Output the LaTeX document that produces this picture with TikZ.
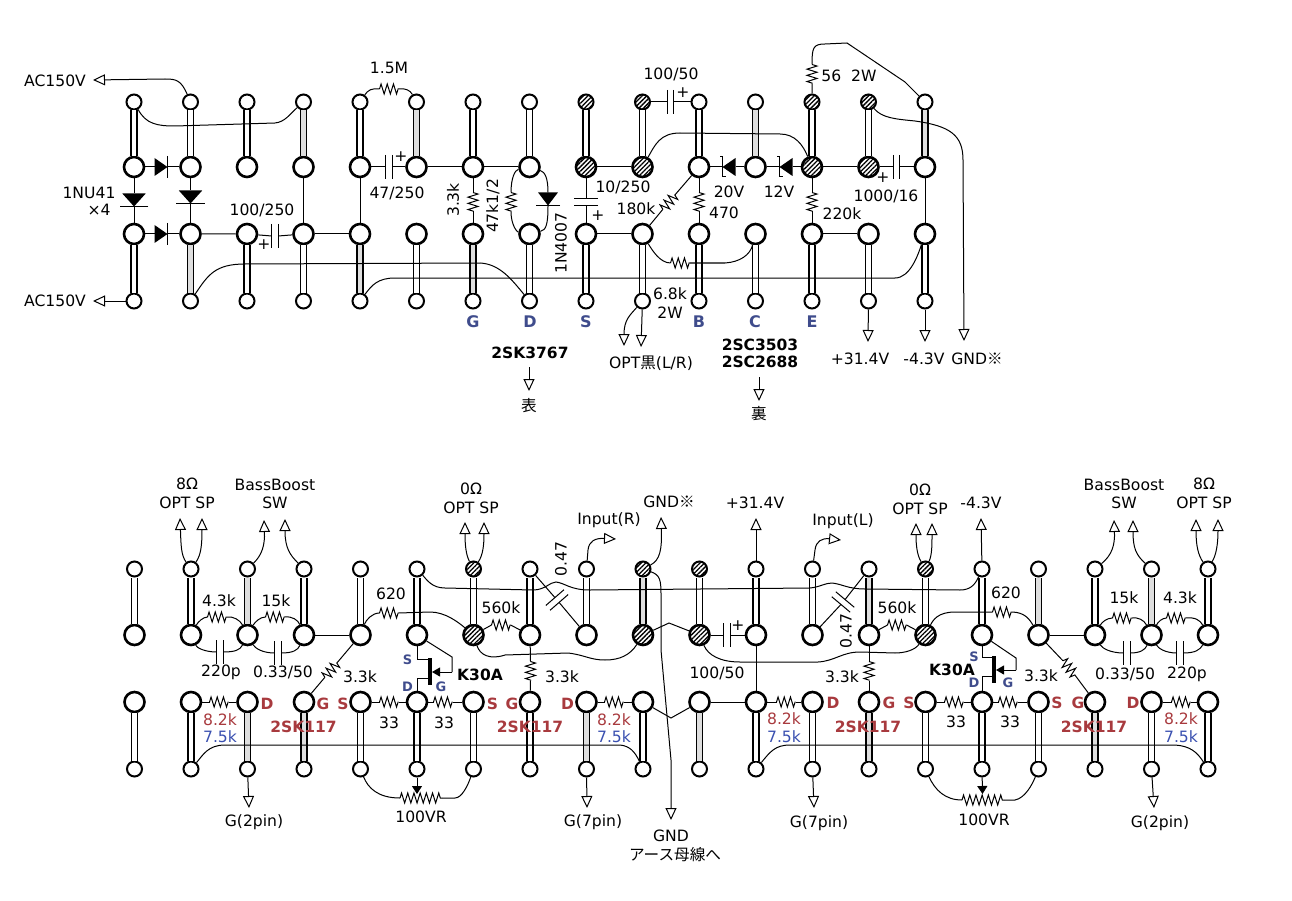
\documentclass[tikz,border=0pt]{standalone}
\usepackage{fontspec}
\setmainfont{DejaVu Sans}
\newfontfamily\cjk{Noto Sans CJK JP}
\usepackage{tikz}
\usetikzlibrary{arrows.meta, decorations.pathmorphing, patterns.meta}
\definecolor{pinblue}{HTML}{3F4C8C}
\definecolor{fetred}{HTML}{A83A3E}
\definecolor{valblue}{HTML}{3A50B0}

\begin{document}
\begin{tikzpicture}[x=1pt,y=-1pt,line width=1pt,
        holeS/.style={circle,draw,line width=2pt,fill=white,minimum size=15pt,inner sep=0pt},
        holeL/.style={circle,draw,line width=2.6pt,fill=white,minimum size=20pt,inner sep=0pt},
        plain/.style={},
        hatch/.style={preaction={fill=white},pattern={Lines[angle=45,distance=3.2pt,line width=1.3pt]}},
        rail/.style={double=white,double distance=4.4pt,line width=1.4pt},
        railg/.style={double=black!13,double distance=4.4pt,line width=1.4pt},
        sig/.style={-{Triangle[open,length=12pt,width=11pt]}},
        lbl/.style={inner sep=0pt,font=\fontsize{15.6}{17}\selectfont},
        pin/.style={lbl,text=pinblue,font=\fontsize{16}{17}\selectfont\bfseries},
        pinS/.style={lbl,text=pinblue,font=\fontsize{13}{14}\selectfont\bfseries},
        part/.style={lbl,font=\fontsize{15.5}{17}\selectfont\bfseries},
        fet/.style={lbl,text=fetred,font=\fontsize{15.5}{17}\selectfont\bfseries},
        valr/.style={lbl,text=fetred},
        valb/.style={lbl,text=valblue},
        zig/.style={decorate,decoration={zigzag,segment length=6.2pt,amplitude=5pt}},
        resi/.pic={\draw[zig] (-9.5,0) coordinate (-a) -- (9.5,0) coordinate (-b);},
        pot/.pic={\draw[zig] (-21,0) coordinate (-a) -- (21,0) coordinate (-b);},
        capa/.pic={\draw (-3.2,-12) -- (-3.2,12) (3.2,-12) -- (3.2,12);
            \coordinate (-a) at (-3.2,0); \coordinate (-b) at (3.2,0);},
        diode/.pic={\fill (-6.5,-9) -- (6.5,0) -- (-6.5,9) -- cycle;
            \draw (6.5,-11) -- (6.5,11);
            \coordinate (-a) at (-6.5,0); \coordinate (-b) at (6.5,0);},
        zener/.pic={\fill (-6.5,-9) -- (6.5,0) -- (-6.5,9) -- cycle;
            \draw (3.5,-10) -- (6.5,-10) -- (6.5,10) -- (9.5,10);
            \coordinate (-a) at (-6.5,0); \coordinate (-b) at (6.5,0);},
        jfet/.pic={\draw[line width=4pt] (0,-14) -- (0,13);
            \draw (0,-13) -- (-12,-13) coordinate (-s);
            \draw (0,6) -- (-12,6) coordinate (-d);
            \draw[-{Triangle[length=8pt,width=9pt]}] (22,0) coordinate (-g) -- (2,0);}
    ]
    \useasboundingbox (0,0) rectangle (1292,901);

    % top board
    \foreach \i/\p in {0/plain,1/plain,2/plain,3/plain,4/plain,5/plain,6/plain,7/plain,
            8/hatch,9/hatch,10/plain,11/plain,12/hatch,13/hatch,14/plain} {
        \pgfmathsetmacro\cx{134+56.5*\i}
        \node[holeS,\p] (ta\i) at (\cx,102) {};
        \node[holeL,\p] (tb\i) at (\cx,167) {};
        \node[holeL]    (tc\i) at (\cx,234) {};
        \node[holeS]    (td\i) at (\cx,301) {};
    }
    % bottom board
    \foreach \i/\p in {0/plain,1/plain,2/plain,3/plain,4/plain,5/plain,6/hatch,7/plain,8/plain,
            9/hatch,10/hatch,11/plain,12/plain,13/plain,14/hatch,15/plain,16/plain,17/plain,18/plain,19/plain} {
        \pgfmathsetmacro\cx{134.5+56.5*\i}
        \node[holeS,\p] (ba\i) at (\cx,569) {};
        \node[holeL,\p] (bb\i) at (\cx,635) {};
        \node[holeL]    (bc\i) at (\cx,702) {};
        \node[holeS]    (bd\i) at (\cx,769) {};
    }
    \foreach \i in {0,1,2,4,6,7,8,9,10,12,13}
        \draw[rail] (ta\i) -- (tb\i);
    \foreach \i in {3,5,11,14}
        \draw[railg] (ta\i) -- (tb\i);
    \foreach \i in {0,2,3,5,7,8,9,10,11,12,13,14}
        \draw[rail] (tc\i) -- (td\i);
    \foreach \i in {1,4,6}
        \draw[railg] (tc\i) -- (td\i);
    \foreach \i in {0,1,3,4,5,6,7,8,10,11,12,14,15,17,19}
        \draw[rail] (ba\i) -- (bb\i);
    \foreach \i in {2,9,13,16,18}
        \draw[railg] (ba\i) -- (bb\i);
    \foreach \i in {0,1,4,5,6,7,9,11,12,14,15,16,18,19}
        \draw[rail] (bc\i) -- (bd\i);
    \foreach \i in {2,3,8,10,13,17}
        \draw[railg] (bc\i) -- (bd\i);

    % free ends of the arrows
    \coordinate (p_ac1) at (93,80);
    \coordinate (p_ac2) at (93,301);
    \coordinate (p_opt1) at (624,346);
    \coordinate (p_opt2) at (641,347);
    \coordinate (p_v1) at (868,342);
    \coordinate (p_v2) at (925,342);
    \coordinate (p_gnd1) at (964,341);
    \coordinate (p_sp1) at (180,518);
    \coordinate (p_sp2) at (202,518);
    \coordinate (p_sw1) at (264,520);
    \coordinate (p_sw2) at (285,519);
    \coordinate (p_sp3) at (465,522);
    \coordinate (p_sp4) at (484,522);
    \coordinate (p_in1) at (616,539);
    \coordinate (p_gnd2) at (661,517);
    \coordinate (p_gnd3) at (671,820);
    \coordinate (p_v3) at (756,518);
    \coordinate (p_in2) at (841,540);
    \coordinate (p_sp5) at (916,523);
    \coordinate (p_sp6) at (932,523);
    \coordinate (p_v4) at (981,518);
    \coordinate (p_sw3) at (1114,520);
    \coordinate (p_sw4) at (1133,520);
    \coordinate (p_sp7) at (1196,519);
    \coordinate (p_sp8) at (1218,519);
    \coordinate (p_g1) at (249,808);
    \coordinate (p_g2) at (587,808);
    \coordinate (p_g3) at (814,808);
    \coordinate (p_g4) at (1154,808);
    \coordinate (p_vr1) at (417,794);
    \coordinate (p_vr2) at (982.5,794);
    \coordinate (a_1) at (529,367);
    \coordinate (a_2) at (529,391);
    \coordinate (a_3) at (759,377);
    \coordinate (a_4) at (759,401);

    % top board parts
    \pic[rotate=0]   (d_1) at (161,167) {diode};
    \pic[rotate=-90,yscale=1.3] (d_2) at (134,200) {diode};
    \pic[rotate=-90,yscale=1.3] (d_3) at (190.5,197) {diode};
    \pic[rotate=0]   (d_4) at (161,234) {diode};
    \pic[rotate=-90,yscale=1.1] (d_5) at (548,199) {diode};
    \pic[rotate=180] (z_1) at (729,167) {zener};
    \pic[rotate=180] (z_2) at (786,167) {zener};
    \pic (c_1) at (275,236) {capa};
    \pic (c_2) at (389,167) {capa};
    \pic[rotate=-90] (c_3) at (586,202) {capa};
    \pic (c_4) at (670.5,102) {capa};
    \pic (c_5) at (896.5,167) {capa};
    \pic (r_1) at (389,89) {resi};
    \pic[rotate=-90] (r_2) at (473,202) {resi};
    \pic[rotate=-90] (r_3) at (511,202) {resi};
    \pic[rotate=50]  (r_4) at (669,202) {resi};
    \pic[rotate=-90] (r_5) at (699,202) {resi};
    \pic[rotate=-90] (r_6) at (812,202) {resi};
    \pic[rotate=-90] (r_7) at (812,74) {resi};
    \pic (r_8) at (680,263) {resi};

    \draw[sig] (ta1) .. controls (181,80) and (176,79) .. (165,79) -- (p_ac1);
    \draw[sig] (td0) -- (p_ac2);
    \draw (ta0) .. controls (146,124) and (157,126) .. (175,126) -- (275,123) .. controls (285,122) and (290,114) .. (ta3);
    \draw (tb0) -- (d_1-a) (d_1-b) -- (tb1);
    \draw (tb0) -- (d_2-a) (d_2-b) -- (tc0);
    \draw (tb1) -- (d_3-a) (d_3-b) -- (tc1);
    \draw (tc0) -- (d_4-a) (d_4-b) -- (tc1);
    \draw (tc1) -- (tc2) (tc2) -- (c_1-a) (c_1-b) -- (tc3);
    \draw (tc3) -- (tb3) (tc3) -- (tc4) (tc4) -- (tb4);
    \draw (tb4) -- (c_2-a) (c_2-b) -- (tb5) (tb5) -- (tb6) (tb6) -- (tb7);
    \draw (ta4) .. controls (368,90) and (372,88) .. (r_1-a) (r_1-b) .. controls (405,88) and (410,90) .. (ta5);
    \draw (tb6) -- (r_2-a) (r_2-b) -- (tc6);
    \draw (tb7) .. controls (515,170) and (511,178) .. (r_3-a) (r_3-b) .. controls (511,225) and (517,232) .. (tc7);
    \draw (tb7) .. controls (545,172) and (548,178) .. (d_5-a) (d_5-b) .. controls (548,225) and (546,230) .. (tc7);
    \draw (tb8) -- (tb9) (tb8) -- (c_3-a) (c_3-b) -- (tc8) (tc8) -- (tc9);
    \draw (ta9) -- (c_4-a) (c_4-b) -- (ta10);
    \draw (tb9) .. controls (655,145) and (660,133) .. (680,133) -- (780,134) .. controls (795,134) and (803,145) .. (tb12);
    \draw (tb10) -- (r_4-b) (r_4-a) -- (tc9);
    \draw (tb10) -- (r_5-a) (r_5-b) -- (tc10);
    \draw (tc9) .. controls (652,250) and (660,263) .. (r_8-a) (r_8-b) -- (725,263) .. controls (740,262) and (750,255) .. (tc11);
    \draw (tb10) -- (z_1-b) (z_1-a) -- (tb11) (tb11) -- (z_2-b) (z_2-a) -- (tb12);
    \draw (tb12) -- (tb13) (tb13) -- (c_5-a) (c_5-b) -- (tb14) (tb14) -- (tc14);
    \draw (tb12) -- (r_6-a) (r_6-b) -- (tc12) (tc12) -- (tc13);
    \draw (ta12) -- (r_7-b) (r_7-a) .. controls (812,48) and (813,44) .. (825,44) -- (847,43) -- (905,82) -- (ta14);
    \draw[sig] (ta13) .. controls (882,118) and (895,119) .. (915,121) .. controls (950,126) and (963,135) .. (963,160) -- (p_gnd1);
    \draw (td1) .. controls (208,275) and (215,264) .. (245,264) -- (480,263) .. controls (500,264) and (512,280) .. (td7);
    \draw (td4) .. controls (372,285) and (378,278) .. (395,278) -- (895,278) .. controls (910,278) and (918,255) .. (tc14);
    \draw[sig] (td9) .. controls (630,315) and (624,320) .. (p_opt1);
    \draw[sig] (td9) -- (p_opt2);
    \draw[sig] (td13) -- (p_v1);
    \draw[sig] (td14) -- (p_v2);
    \draw[sig] (a_1) -- (a_2);
    \draw[sig] (a_3) -- (a_4);

    % bottom board parts
    \pic (r_10) at (217,617) {resi};
    \pic (r_11) at (275,617) {resi};
    \pic (r_12) at (389,613) {resi};
    \pic[rotate=50] (r_13) at (331,670) {resi};
    \pic (r_14) at (501,625) {resi};
    \pic[rotate=-90] (r_15) at (530.5,671) {resi};
    \pic (r_16) at (219,702) {resi};
    \pic (r_17) at (389,702) {resi};
    \pic (r_18) at (443,702) {resi};
    \pic (r_19) at (614,702) {resi};
    \pic (r_20) at (786,702) {resi};
    \pic (r_21) at (954,702) {resi};
    \pic (r_22) at (1008,702) {resi};
    \pic (r_23) at (1181,702) {resi};
    \pic[rotate=-90] (r_24) at (869,671) {resi};
    \pic (r_25) at (897,625) {resi};
    \pic (r_26) at (1002,612) {resi};
    \pic[rotate=-50] (r_27) at (1069,668) {resi};
    \pic (r_28) at (1122,618) {resi};
    \pic (r_29) at (1176,618) {resi};
    \pic (v_1) at (421,798) {pot};
    \pic (v_2) at (983,800) {pot};
    \pic (c_10) at (220,652) {capa};
    \pic (c_11) at (278,653) {capa};
    \pic[rotate=-49] (c_12) at (557,600) {capa};
    \pic (c_13) at (727,635) {capa};
    \pic[rotate=50] (c_14) at (843,602) {capa};
    \pic (c_15) at (1127,653) {capa};
    \pic (c_16) at (1180,653) {capa};
    \pic (f_1) at (430,672) {jfet};
    \pic (f_2) at (994,670) {jfet};

    \draw[sig] (ba1) .. controls (181,555) and (181,545) .. (p_sp1);
    \draw[sig] (ba1) .. controls (201,555) and (202,545) .. (p_sp2);
    \draw[sig] (ba2) .. controls (262,555) and (265,545) .. (p_sw1);
    \draw[sig] (ba3) .. controls (290,555) and (285,548) .. (p_sw2);
    \draw[sig] (ba6) .. controls (466,555) and (465,545) .. (p_sp3);
    \draw[sig] (ba6) .. controls (483,555) and (484,545) .. (p_sp4);
    \draw[sig] (ba8) -- (588,550) .. controls (589,541) and (595,538) .. (p_in1);
    \draw[sig] (ba9) .. controls (660,560) and (662,550) .. (p_gnd2);
    \draw[sig] (ba9) .. controls (660,575) and (661,580) .. (661,595) -- (661,650) -- (671,760) -- (p_gnd3);
    \draw[sig] (ba11) -- (p_v3);
    \draw[sig] (ba12) -- (815,550) .. controls (816,541) and (822,538) .. (p_in2);
    \draw[sig] (ba14) .. controls (917,555) and (916,545) .. (p_sp5);
    \draw[sig] (ba14) .. controls (932,555) and (932,545) .. (p_sp6);
    \draw[sig] (ba15) -- (p_v4);
    \draw[sig] (ba17) .. controls (1112,555) and (1115,545) .. (p_sw3);
    \draw[sig] (ba18) .. controls (1136,555) and (1133,548) .. (p_sw4);
    \draw[sig] (ba19) .. controls (1198,555) and (1196,545) .. (p_sp7);
    \draw[sig] (ba19) .. controls (1216,555) and (1218,545) .. (p_sp8);
    \draw[sig] (bd2) -- (p_g1);
    \draw[sig] (bd8) -- (p_g2);
    \draw[sig] (bd12) -- (p_g3);
    \draw[sig] (bd18) -- (p_g4);

    \draw (bb1) .. controls (198,622) and (203,617) .. (r_10-a) (r_10-b) .. controls (233,616) and (240,620) .. (bb2);
    \draw (bb1) .. controls (197,648) and (205,652) .. (c_10-a) (c_10-b) .. controls (235,652) and (240,650) .. (bb2);
    \draw (bb2) .. controls (255,622) and (260,617) .. (r_11-a) (r_11-b) .. controls (292,616) and (298,620) .. (bb3);
    \draw (bb2) .. controls (255,648) and (262,653) .. (c_11-a) (c_11-b) .. controls (293,653) and (298,650) .. (bb3);
    \draw (bb3) -- (bb4);
    \draw (bb4) .. controls (366,620) and (372,613) .. (r_12-a) (r_12-b) -- (430,612) .. controls (445,612) and (458,622) .. (bb6);
    \draw (bb4) -- (r_13-b) (r_13-a) -- (bc3);
    \draw (bb6) -- (r_14-a) (r_14-b) -- (bb7);
    \draw (bb7) -- (r_15-a) (r_15-b) -- (bc7);
    \draw (bb6) .. controls (480,655) and (490,660) .. (505,655) -- (568,653) .. controls (585,655) and (590,660) .. (605,660) .. controls (620,660) and (630,655) .. (bb9);
    \draw (ba7) -- (c_12-a) (c_12-b) -- (bb8);
    \draw (ba5) .. controls (427,580) and (432,588) .. (445,588) -- (533,590) .. controls (545,590) and (550,582) .. (556,582) .. controls (565,583) and (570,590) .. (590,590) -- (810,588) .. controls (820,587) and (825,583) .. (832,583) .. controls (842,584) and (848,589) .. (865,589) -- (960,590) .. controls (970,590) and (975,585) .. (ba15);
    \draw (bb5) |- (f_1-s) (f_1-d) -| (bc5);
    \draw (f_1-g) -- ++(0,-15) -- (bb5);
    \draw (bc1) -- (r_16-a) (r_16-b) -- (bc2);
    \draw (bc4) -- (r_17-a) (r_17-b) -- (bc5);
    \draw (bc5) -- (r_18-a) (r_18-b) -- (bc6);
    \draw (bc8) -- (r_19-a) (r_19-b) -- (bc9);
    \draw (bd1) .. controls (203,755) and (208,745) .. (225,745) -- (620,745) .. controls (630,746) and (635,752) .. (bd9);
    \draw (bd4) .. controls (368,788) and (378,798) .. (v_1-a) (v_1-b) -- (455,798) .. controls (462,798) and (468,785) .. (bd6);
    \draw[-{Triangle[length=8pt,width=10pt]}] (bd5) -- (p_vr1);

    \draw (bb9) -- (669,623) -- (bb10);
    \draw (bc9) -- (671,718) -- (bc10);
    \draw (bb10) -- (c_13-a) (c_13-b) -- (bb11) (bb11) -- (bc11) (bc10) -- (bc11);
    \draw (bc11) -- (r_20-a) (r_20-b) -- (bc12);
    \draw (bb10) .. controls (708,655) and (720,662) .. (740,662) -- (818,662) .. controls (835,661) and (842,652) .. (860,652) -- (895,653) .. controls (905,653) and (915,650) .. (bb14);
    \draw (ba13) -- (c_14-b) (c_14-a) -- (bb12);
    \draw (bb13) -- (r_25-a) (r_25-b) -- (bb14);
    \draw (bb13) -- (r_24-a) (r_24-b) -- (bc13);
    \draw (bb14) .. controls (933,620) and (938,612) .. (955,612) -- (r_26-a) (r_26-b) .. controls (1025,612) and (1030,620) .. (bb16);
    \draw (bb16) -- (bb17);
    \draw (bb16) -- (r_27-a) (r_27-b) -- (bc17);
    \draw (bb15) |- (f_2-s) (f_2-d) -| (bc15);
    \draw (f_2-g) -- ++(0,-12) -- (bb15);
    \draw (bc14) -- (r_21-a) (r_21-b) -- (bc15);
    \draw (bc15) -- (r_22-a) (r_22-b) -- (bc16);
    \draw (bc18) -- (r_23-a) (r_23-b) -- (bc19);
    \draw (bb17) .. controls (1102,622) and (1107,618) .. (r_28-a) (r_28-b) .. controls (1138,617) and (1144,620) .. (bb18);
    \draw (bb17) .. controls (1102,648) and (1110,653) .. (c_15-a) (c_15-b) .. controls (1140,653) and (1145,650) .. (bb18);
    \draw (bb18) .. controls (1158,622) and (1162,618) .. (r_29-a) (r_29-b) .. controls (1195,617) and (1200,620) .. (bb19);
    \draw (bb18) .. controls (1158,648) and (1165,653) .. (c_16-a) (c_16-b) .. controls (1195,653) and (1200,650) .. (bb19);
    \draw (bd11) .. controls (770,752) and (775,745) .. (790,745) -- (1175,745) .. controls (1190,746) and (1197,752) .. (bd19);
    \draw (bd14) .. controls (935,790) and (945,800) .. (v_2-a) (v_2-b) -- (1015,800) .. controls (1025,798) and (1032,785) .. (bd16);
    \draw[-{Triangle[length=8pt,width=10pt]}] (bd15) -- (p_vr2);

    % labels, top board
    \node[lbl] (l_1) at (55,81) {AC150V};
    \node[lbl] (l_2) at (55,301) {AC150V};
    \node[lbl] (l_3) at (89,193) {1NU41};
    \node[lbl] (l_4) at (99,210) {×4};
    \node[lbl] (l_5) at (262,210) {100/250};
    \node[lbl] (l_6) at (264,245) {+};
    \node[lbl] (l_7) at (389,68) {1.5M};
    \node[lbl] (l_8) at (401,157) {+};
    \node[lbl] (l_9) at (397,193) {47/250};
    \node[lbl,rotate=90] (l_10) at (453,200) {3.3k};
    \node[lbl,rotate=90] (l_11) at (493,206) {47k1/2};
    \node[lbl,rotate=90] (l_12) at (561,243) {1N4007};
    \node[lbl] (l_13) at (623,187) {10/250};
    \node[lbl] (l_14) at (598,216) {+};
    \node[lbl] (l_15) at (636,209) {180k};
    \node[lbl] (l_16) at (671,74) {100/50};
    \node[lbl] (l_17) at (683,93) {+};
    \node[lbl] (l_18) at (724,213) {470};
    \node[lbl] (l_19) at (729,192) {20V};
    \node[lbl] (l_20) at (779,192) {12V};
    \node[lbl] (l_21) at (842,214) {220k};
    \node[lbl] (l_22) at (849,76) {56\ \ 2W};
    \node[lbl] (l_23) at (883,178) {+};
    \node[lbl] (l_24) at (886,196) {1000/16};
    \node[lbl] (l_25) at (670,294) {6.8k};
    \node[lbl] (l_26) at (670,313) {2W};
    \node[pin] (l_27) at (473,322) {G};
    \node[pin] (l_28) at (530,322) {D};
    \node[pin] (l_29) at (586,322) {S};
    \node[pin] (l_30) at (699,322) {B};
    \node[pin] (l_31) at (755,322) {C};
    \node[pin] (l_32) at (812,322) {E};
    \node[part] (l_33) at (530,353) {2SK3767};
    \node[lbl] (l_34) at (529,406) {\cjk 表};
    \node[lbl] (l_35) at (651,363) {OPT{\cjk 黒}(L/R)};
    \node[part] (l_36) at (760,345) {2SC3503};
    \node[part] (l_37) at (760,362) {2SC2688};
    \node[lbl] (l_38) at (759,414) {\cjk 裏};
    \node[lbl] (l_39) at (860,359) {+31.4V};
    \node[lbl] (l_40) at (924,359) {-4.3V};
    \node[lbl] (l_41) at (977,359) {GND{\cjk ※}};

    % labels, bottom board
    \node[lbl] (l_50) at (187,484) {8Ω};
    \node[lbl] (l_51) at (187,503) {OPT SP};
    \node[lbl] (l_52) at (275,485) {BassBoost};
    \node[lbl] (l_53) at (275,503) {SW};
    \node[lbl] (l_54) at (471,489) {0Ω};
    \node[lbl] (l_55) at (471,508) {OPT SP};
    \node[lbl] (l_56) at (609,520) {Input(R)};
    \node[lbl] (l_57) at (669,502) {GND{\cjk ※}};
    \node[lbl] (l_58) at (755,503) {+31.4V};
    \node[lbl] (l_59) at (843,521) {Input(L)};
    \node[lbl] (l_60) at (920,490) {0Ω};
    \node[lbl] (l_61) at (920,509) {OPT SP};
    \node[lbl] (l_62) at (981,503) {-4.3V};
    \node[lbl] (l_63) at (1124,485) {BassBoost};
    \node[lbl] (l_64) at (1124,503) {SW};
    \node[lbl] (l_65) at (1204,484) {8Ω};
    \node[lbl] (l_66) at (1204,503) {OPT SP};
    \node[lbl] (l_67) at (219,601) {4.3k};
    \node[lbl] (l_68) at (276,601) {15k};
    \node[lbl] (l_69) at (391,594) {620};
    \node[lbl] (l_70) at (501,608) {560k};
    \node[lbl,rotate=90] (l_71) at (561,559) {0.47};
    \node[lbl] (l_72) at (221,672) {220p};
    \node[lbl] (l_73) at (283,672) {0.33/50};
    \node[lbl] (l_74) at (360,677) {3.3k};
    \node[lbl] (l_75) at (562,677) {3.3k};
    \node[part] (l_76) at (480,675) {K30A};
    \node[pinS] (l_77) at (407.5,660) {S};
    \node[pinS] (l_78) at (407.5,687) {D};
    \node[pinS] (l_79) at (441,687) {G};
    \node[fet] (l_80) at (267,704) {D};
    \node[fet] (l_81) at (323,704) {G};
    \node[fet] (l_82) at (343,704) {S};
    \node[fet] (l_83) at (492.5,704) {S};
    \node[fet] (l_84) at (512,704) {G};
    \node[fet] (l_85) at (567.5,704) {D};
    \node[fet] (l_86) at (303.5,727) {2SK117};
    \node[fet] (l_87) at (530,727) {2SK117};
    \node[lbl] (l_88) at (389,723) {33};
    \node[lbl] (l_89) at (444,723) {33};
    \node[valr] (l_90) at (220,720) {8.2k};
    \node[valb] (l_91) at (220,737) {7.5k};
    \node[valr] (l_92) at (614,720) {8.2k};
    \node[valb] (l_93) at (614,737) {7.5k};
    \node[lbl] (l_94) at (254,822) {G(2pin)};
    \node[lbl] (l_95) at (421,817) {100VR};
    \node[lbl] (l_96) at (593,822) {G(7pin)};
    \node[lbl] (l_97) at (671,836) {GND};
    \node[lbl] (l_98) at (675,855) {\cjk アース母線へ};
    \node[lbl] (l_99) at (738,626) {+};
    \node[lbl] (l_100) at (717,673) {100/50};
    \node[lbl,rotate=90] (l_101) at (846,631) {0.47};
    \node[lbl] (l_102) at (897,608) {560k};
    \node[lbl] (l_103) at (842,677) {3.3k};
    \node[lbl] (l_104) at (1006,593) {620};
    \node[part] (l_105) at (952,670) {K30A};
    \node[pinS] (l_106) at (974,657) {S};
    \node[pinS] (l_107) at (974,683) {D};
    \node[pinS] (l_108) at (1008,683) {G};
    \node[lbl] (l_109) at (1041,676) {3.3k};
    \node[lbl] (l_110) at (1124,598) {15k};
    \node[lbl] (l_111) at (1180,598) {4.3k};
    \node[lbl] (l_112) at (1125,674) {0.33/50};
    \node[lbl] (l_113) at (1187,674) {220p};
    \node[fet] (l_114) at (833,703) {D};
    \node[fet] (l_115) at (889,703) {G};
    \node[fet] (l_116) at (909,703) {S};
    \node[fet] (l_117) at (1057,703) {S};
    \node[fet] (l_118) at (1078,703) {G};
    \node[fet] (l_119) at (1133,703) {D};
    \node[fet] (l_120) at (868,727) {2SK117};
    \node[fet] (l_121) at (1094,727) {2SK117};
    \node[lbl] (l_122) at (956,722) {33};
    \node[lbl] (l_123) at (1010,722) {33};
    \node[valr] (l_124) at (784,719) {8.2k};
    \node[valb] (l_125) at (784,737) {7.5k};
    \node[valr] (l_126) at (1181,719) {8.2k};
    \node[valb] (l_127) at (1181,737) {7.5k};
    \node[lbl] (l_128) at (819,823) {G(7pin)};
    \node[lbl] (l_129) at (984,820) {100VR};
    \node[lbl] (l_130) at (1160,823) {G(2pin)};
\end{tikzpicture}
\end{document}
